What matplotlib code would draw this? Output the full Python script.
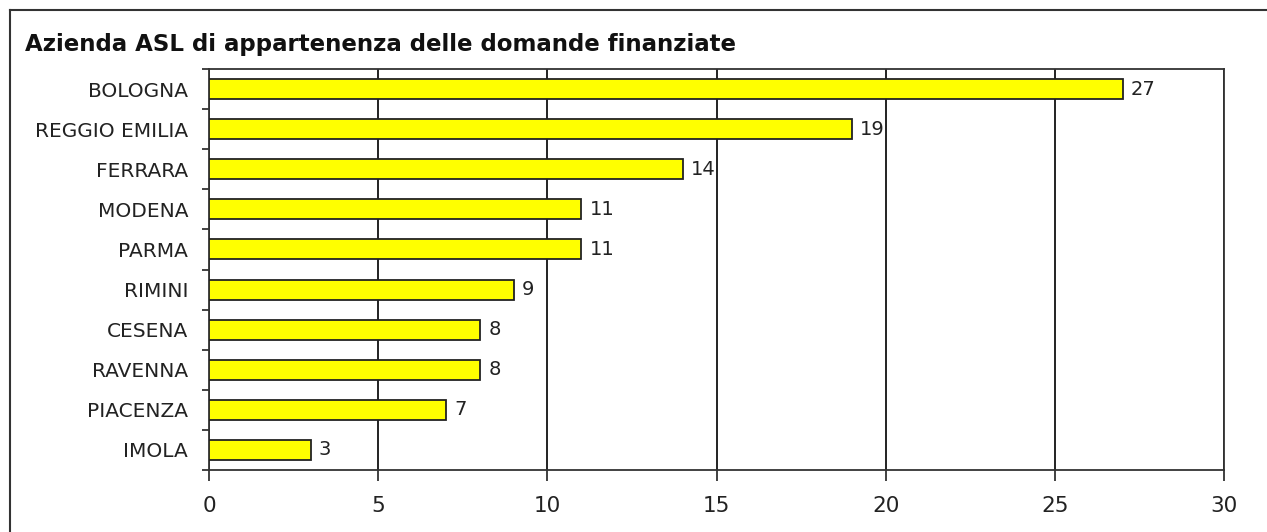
import matplotlib.pyplot as plt
from matplotlib.lines import Line2D
import numpy as np

# Dati
citta = ["BOLOGNA", "REGGIO EMILIA", "FERRARA", "MODENA", "PARMA",
         "RIMINI", "CESENA", "RAVENNA", "PIACENZA", "IMOLA"]
domande = [27, 19, 14, 11, 11, 9, 8, 8, 7, 3]
x_ticks = [0, 5, 10, 15, 20, 25, 30]

W, H = 1267, 532
fig = plt.figure(figsize=(W / 100, H / 100), dpi=100)
ax = fig.add_axes([209 / W, 1 - 470 / H, (1224 - 209) / W, (470 - 69) / H])

pos = np.arange(len(citta))
ax.barh(pos, domande, height=0.5, color="#FFFF00", edgecolor="#222222",
        linewidth=1.3, zorder=3)

for p, v in zip(pos, domande):
    ax.text(v + 0.25, p, str(v), va="center", ha="left", fontsize=14,
            color="#222222")

ax.set_ylim(len(citta) - 0.5, -0.5)
ax.set_xlim(0, 30)
ax.set_xticks(x_ticks)
ax.set_yticks(pos)
ax.set_yticklabels(citta)
ax.set_yticks(np.arange(-0.5, len(citta), 1), minor=True)

ax.tick_params(axis="y", which="major", length=0, pad=15, labelsize=14.5,
               labelcolor="#222222")
ax.tick_params(axis="y", which="minor", length=5, width=1.3, color="#333333")
ax.tick_params(axis="x", length=8, width=1.3, color="#333333", pad=11,
               labelsize=15.5, labelcolor="#222222")

ax.grid(axis="x", color="#111111", linewidth=1.3, zorder=0)
for s in ax.spines.values():
    s.set_color("#333333")
    s.set_linewidth(1.3)

fig.text(25 / W, 1 - 45 / H, "Azienda ASL di appartenenza delle domande finanziate",
         fontsize=16.5, fontweight="bold", va="center", ha="left", color="#111111")

# cornice esterna
fig.add_artist(Line2D([9.5 / W, 1], [1 - 9.5 / H, 1 - 9.5 / H],
                      transform=fig.transFigure, color="#333333", lw=1.5))
fig.add_artist(Line2D([9.5 / W, 9.5 / W], [0, 1 - 9.5 / H],
                      transform=fig.transFigure, color="#333333", lw=1.5))

fig.savefig("out.png", dpi=100, facecolor="white")
